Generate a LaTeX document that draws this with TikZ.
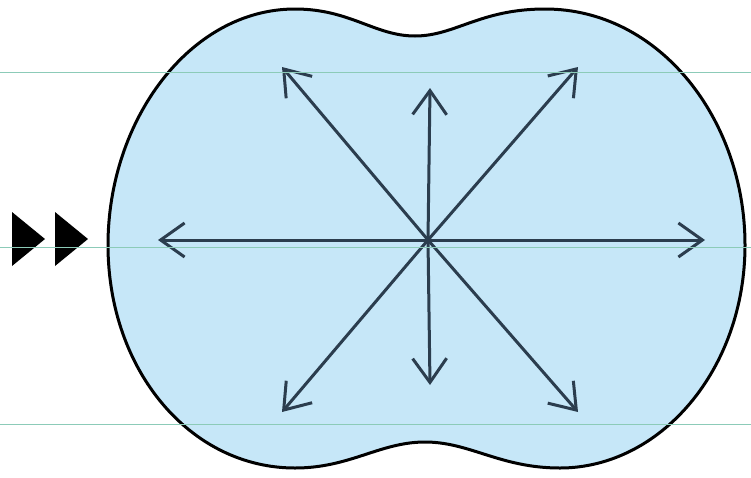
\documentclass[tikz,border=0pt]{standalone}
\usepackage{tikz}
\usetikzlibrary{arrows.meta,positioning,calc}

\definecolor{blobfill}{HTML}{C6E7F8}
\definecolor{rayclr}{HTML}{2B3D4E}
\definecolor{guideclr}{HTML}{8CCBB8}

\tikzset{
  ray/.style={rayclr, line width=3pt, line cap=round,
    -{Straight Barb[length=24pt,width=34pt,line width=3pt]}},
  guide/.style={guideclr, line width=0.8pt}
}

\begin{document}
\begin{tikzpicture}[x=1pt,y=-1pt]
    \useasboundingbox (0,0) rectangle (751,477);

    % Blob
    \draw[black, line width=3pt, fill=blobfill]
      (108,245) .. controls (108,120) and (190,9) .. (295,9)
      .. controls (350,9) and (375,36) .. (415,36)
      .. controls (455,36) and (480,9) .. (545,9)
      .. controls (660,9) and (745,120) .. (745,245)
      .. controls (745,370) and (660,468) .. (560,468)
      .. controls (500,468) and (470,442) .. (425,442)
      .. controls (380,442) and (350,468) .. (295,468)
      .. controls (190,468) and (108,370) .. (108,245) -- cycle;

    % Rays
    \coordinate (c) at (428,240);
    \coordinate (l) at (158,240);
    \coordinate (r) at (705,240);
    \coordinate (u) at (430,88);
    \coordinate (d) at (430,385);
    \coordinate (ul) at (282,67);
    \coordinate (ur) at (578,67);
    \coordinate (dl) at (282,412);
    \coordinate (dr) at (578,412);
    \foreach \t in {l,r,u,d,ul,ur,dl,dr}
      \draw[ray] (c) -- (\t);
    \fill[rayclr] (c) circle (3pt);

    % Triangles
    \foreach \x in {12,55}
      \fill[black] (\x,212) -- (\x+33,239) -- (\x,266) -- cycle;

    % Guide lines
    \foreach \y in {72,247,424}
      \draw[guide] (0,\y) -- (751,\y);
\end{tikzpicture}
\end{document}
